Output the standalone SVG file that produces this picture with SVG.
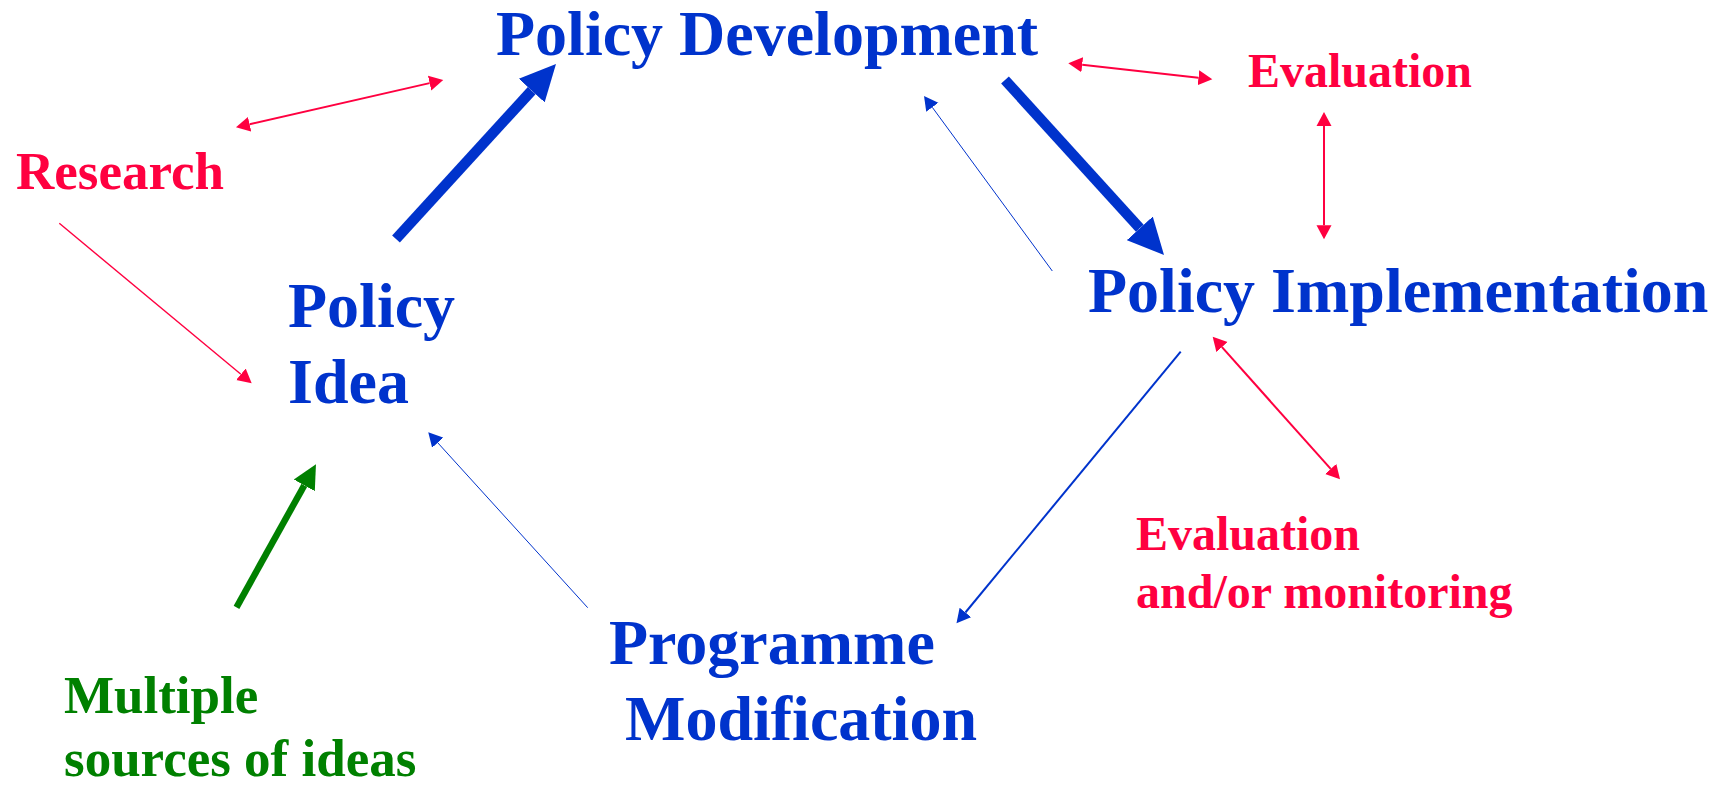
<svg xmlns="http://www.w3.org/2000/svg" width="1726" height="785" viewBox="0 0 1726 785">
<style>
text{font-family:"Liberation Serif","Times New Roman",serif;font-weight:bold}
.blue{fill:#0033CC;font-size:64px}
.red{fill:#FF0040}
.green{fill:#008000;font-size:53px}
.lr{stroke:#FF0040;fill:none}
.lb{stroke:#0033CC;fill:none}
.lg{stroke:#008000;fill:none}
</style>
<defs>
<marker id="hr" viewBox="0 -8 15 16" refX="0" refY="0" markerWidth="15" markerHeight="16" markerUnits="userSpaceOnUse" orient="auto-start-reverse"><path d="M0,-7.5 L14,0 L0,7.5z" fill="#FF0040"/></marker>
<marker id="hb" viewBox="0 -8 15 16" refX="0" refY="0" markerWidth="15" markerHeight="16" markerUnits="userSpaceOnUse" orient="auto-start-reverse"><path d="M0,-7.5 L14,0 L0,7.5z" fill="#0033CC"/></marker>
<marker id="hbt" viewBox="0 -18 37 36" refX="0" refY="0" markerWidth="37" markerHeight="36" markerUnits="userSpaceOnUse" orient="auto"><path d="M0,-17.5 L36,0 L0,17.5z" fill="#0033CC"/></marker>
<marker id="hg" viewBox="0 -13 25 26" refX="0" refY="0" markerWidth="25" markerHeight="26" markerUnits="userSpaceOnUse" orient="auto"><path d="M0,-12 L24,0 L0,12z" fill="#008000"/></marker>
</defs>
<g id="connectors">
<line class="lr" x1="249.6" y1="124.2" x2="429.6" y2="83.1" stroke-width="2" marker-start="url(#hr)" marker-end="url(#hr)"/>
<line class="lb" x1="396" y1="239" x2="531.7" y2="90.6" stroke-width="10.5" marker-end="url(#hbt)"/>
<line class="lr" x1="59.3" y1="223.3" x2="240.9" y2="374.3" stroke-width="1.4" marker-end="url(#hr)"/>
<line class="lr" x1="1082.2" y1="64.8" x2="1198.4" y2="77.8" stroke-width="2" marker-start="url(#hr)" marker-end="url(#hr)"/>
<line class="lb" x1="1005" y1="80" x2="1139.8" y2="228.3" stroke-width="10.5" marker-end="url(#hbt)"/>
<line class="lb" x1="1052.3" y1="271" x2="932.3" y2="107.3" stroke-width="1" marker-end="url(#hb)"/>
<line class="lr" x1="1324" y1="126" x2="1324" y2="225.3" stroke-width="2" marker-start="url(#hr)" marker-end="url(#hr)"/>
<line class="lr" x1="1222" y1="347.1" x2="1330.7" y2="468.9" stroke-width="2" marker-start="url(#hr)" marker-end="url(#hr)"/>
<line class="lb" x1="1180.7" y1="351.7" x2="965.4" y2="612.5" stroke-width="2" marker-end="url(#hb)"/>
<line class="lb" x1="587.7" y1="607.7" x2="437.7" y2="442.7" stroke-width="1" marker-end="url(#hb)"/>
<line class="lg" x1="236.5" y1="607.3" x2="304.3" y2="485.3" stroke-width="6.5" marker-end="url(#hg)"/>
</g>
<g id="policy-development"><text class="blue" x="496" y="55">Policy Development</text></g>
<g id="policy-idea"><text class="blue" x="288" y="327">Policy</text><text class="blue" x="288" y="403">Idea</text></g>
<g id="policy-implementation"><text class="blue" x="1088" y="312">Policy Implementation</text></g>
<g id="programme-modification"><text class="blue" x="609" y="664">Programme</text><text class="blue" x="625" y="740">Modification</text></g>
<g id="research"><text class="red" x="16" y="189" font-size="53">Research</text></g>
<g id="evaluation"><text class="red" x="1248" y="87" font-size="48">Evaluation</text></g>
<g id="evaluation-monitoring"><text class="red" x="1136" y="550" font-size="48">Evaluation</text><text class="red" x="1136" y="608" font-size="48">and/or monitoring</text></g>
<g id="multiple-sources"><text class="green" x="64" y="713">Multiple</text><text class="green" x="64" y="776">sources of ideas</text></g>
</svg>
